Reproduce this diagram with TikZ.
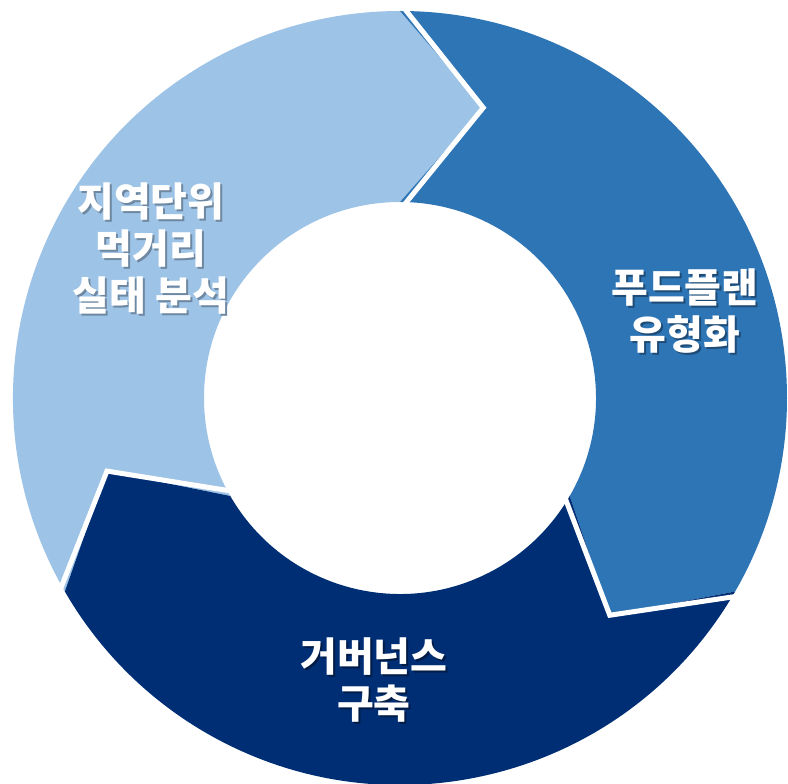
\documentclass[tikz,border=0pt]{standalone}
\usepackage{fontspec}
\newfontfamily\kr{Noto Sans CJK KR}
\definecolor{lightseg}{HTML}{9DC3E6}
\definecolor{midseg}{HTML}{2E75B6}
\definecolor{navyseg}{HTML}{002E75}
\newcommand{\shln}[2]{\rlap{\kern2pt\raisebox{-2pt}{\color{#1}#2}}{\color{white}#2}}
\begin{document}
\begin{tikzpicture}[
  lbl/.style={align=center, font=\kr\bfseries\fontsize{40}{47}\selectfont},
  sep/.style={draw=white, line width=5pt, miter limit=20}
]
\useasboundingbox (-400pt,-386pt) rectangle (388pt,398pt);
\def\R{387pt}\def\r{196pt}\def\m{302pt}
% light blue segment
\fill[lightseg] (210:\R) arc[start angle=210,end angle=90,radius=\R] -- (74:\m) -- (90:\r)
  arc[start angle=90,end angle=210,radius=\r] -- (194:\m) -- cycle;
% medium blue segment
\fill[midseg] (90:\R) arc[start angle=90,end angle=-30,radius=\R] -- (-46:\m) -- (-30:\r)
  arc[start angle=-30,end angle=90,radius=\r] -- (74:\m) -- cycle;
% navy segment
\fill[navyseg] (-30:\R) arc[start angle=-30,end angle=-150,radius=\R] -- (-166:\m) -- (-150:\r)
  arc[start angle=-150,end angle=-30,radius=\r] -- (-46:\m) -- cycle;
% separators
\coordinate (a1) at (90:395pt); \coordinate (t1) at (74:\m); \coordinate (b1) at (90:188pt);
\coordinate (a2) at (-30:395pt); \coordinate (t2) at (-46:\m); \coordinate (b2) at (-30:188pt);
\coordinate (a3) at (-150:395pt); \coordinate (t3) at (-166:\m); \coordinate (b3) at (-150:188pt);
\draw[sep] (a1) -- (t1) -- (b1);
\draw[sep] (a2) -- (t2) -- (b2);
\draw[sep] (a3) -- (t3) -- (b3);
% labels
\node[lbl] (l1) at (-249pt,148pt) {\shln{lightseg!70!black}{지역단위}\\\shln{lightseg!70!black}{먹거리}\\\shln{lightseg!70!black}{실태 분석}};
\node[lbl] (l2) at (285pt,86pt) {\shln{midseg!65!black}{푸드플랜}\\\shln{midseg!65!black}{유형화}};
\node[lbl] (l3) at (-26pt,-283pt) {\shln{navyseg!60!black}{거버넌스}\\\shln{navyseg!60!black}{구축}};
\end{tikzpicture}
\end{document}
